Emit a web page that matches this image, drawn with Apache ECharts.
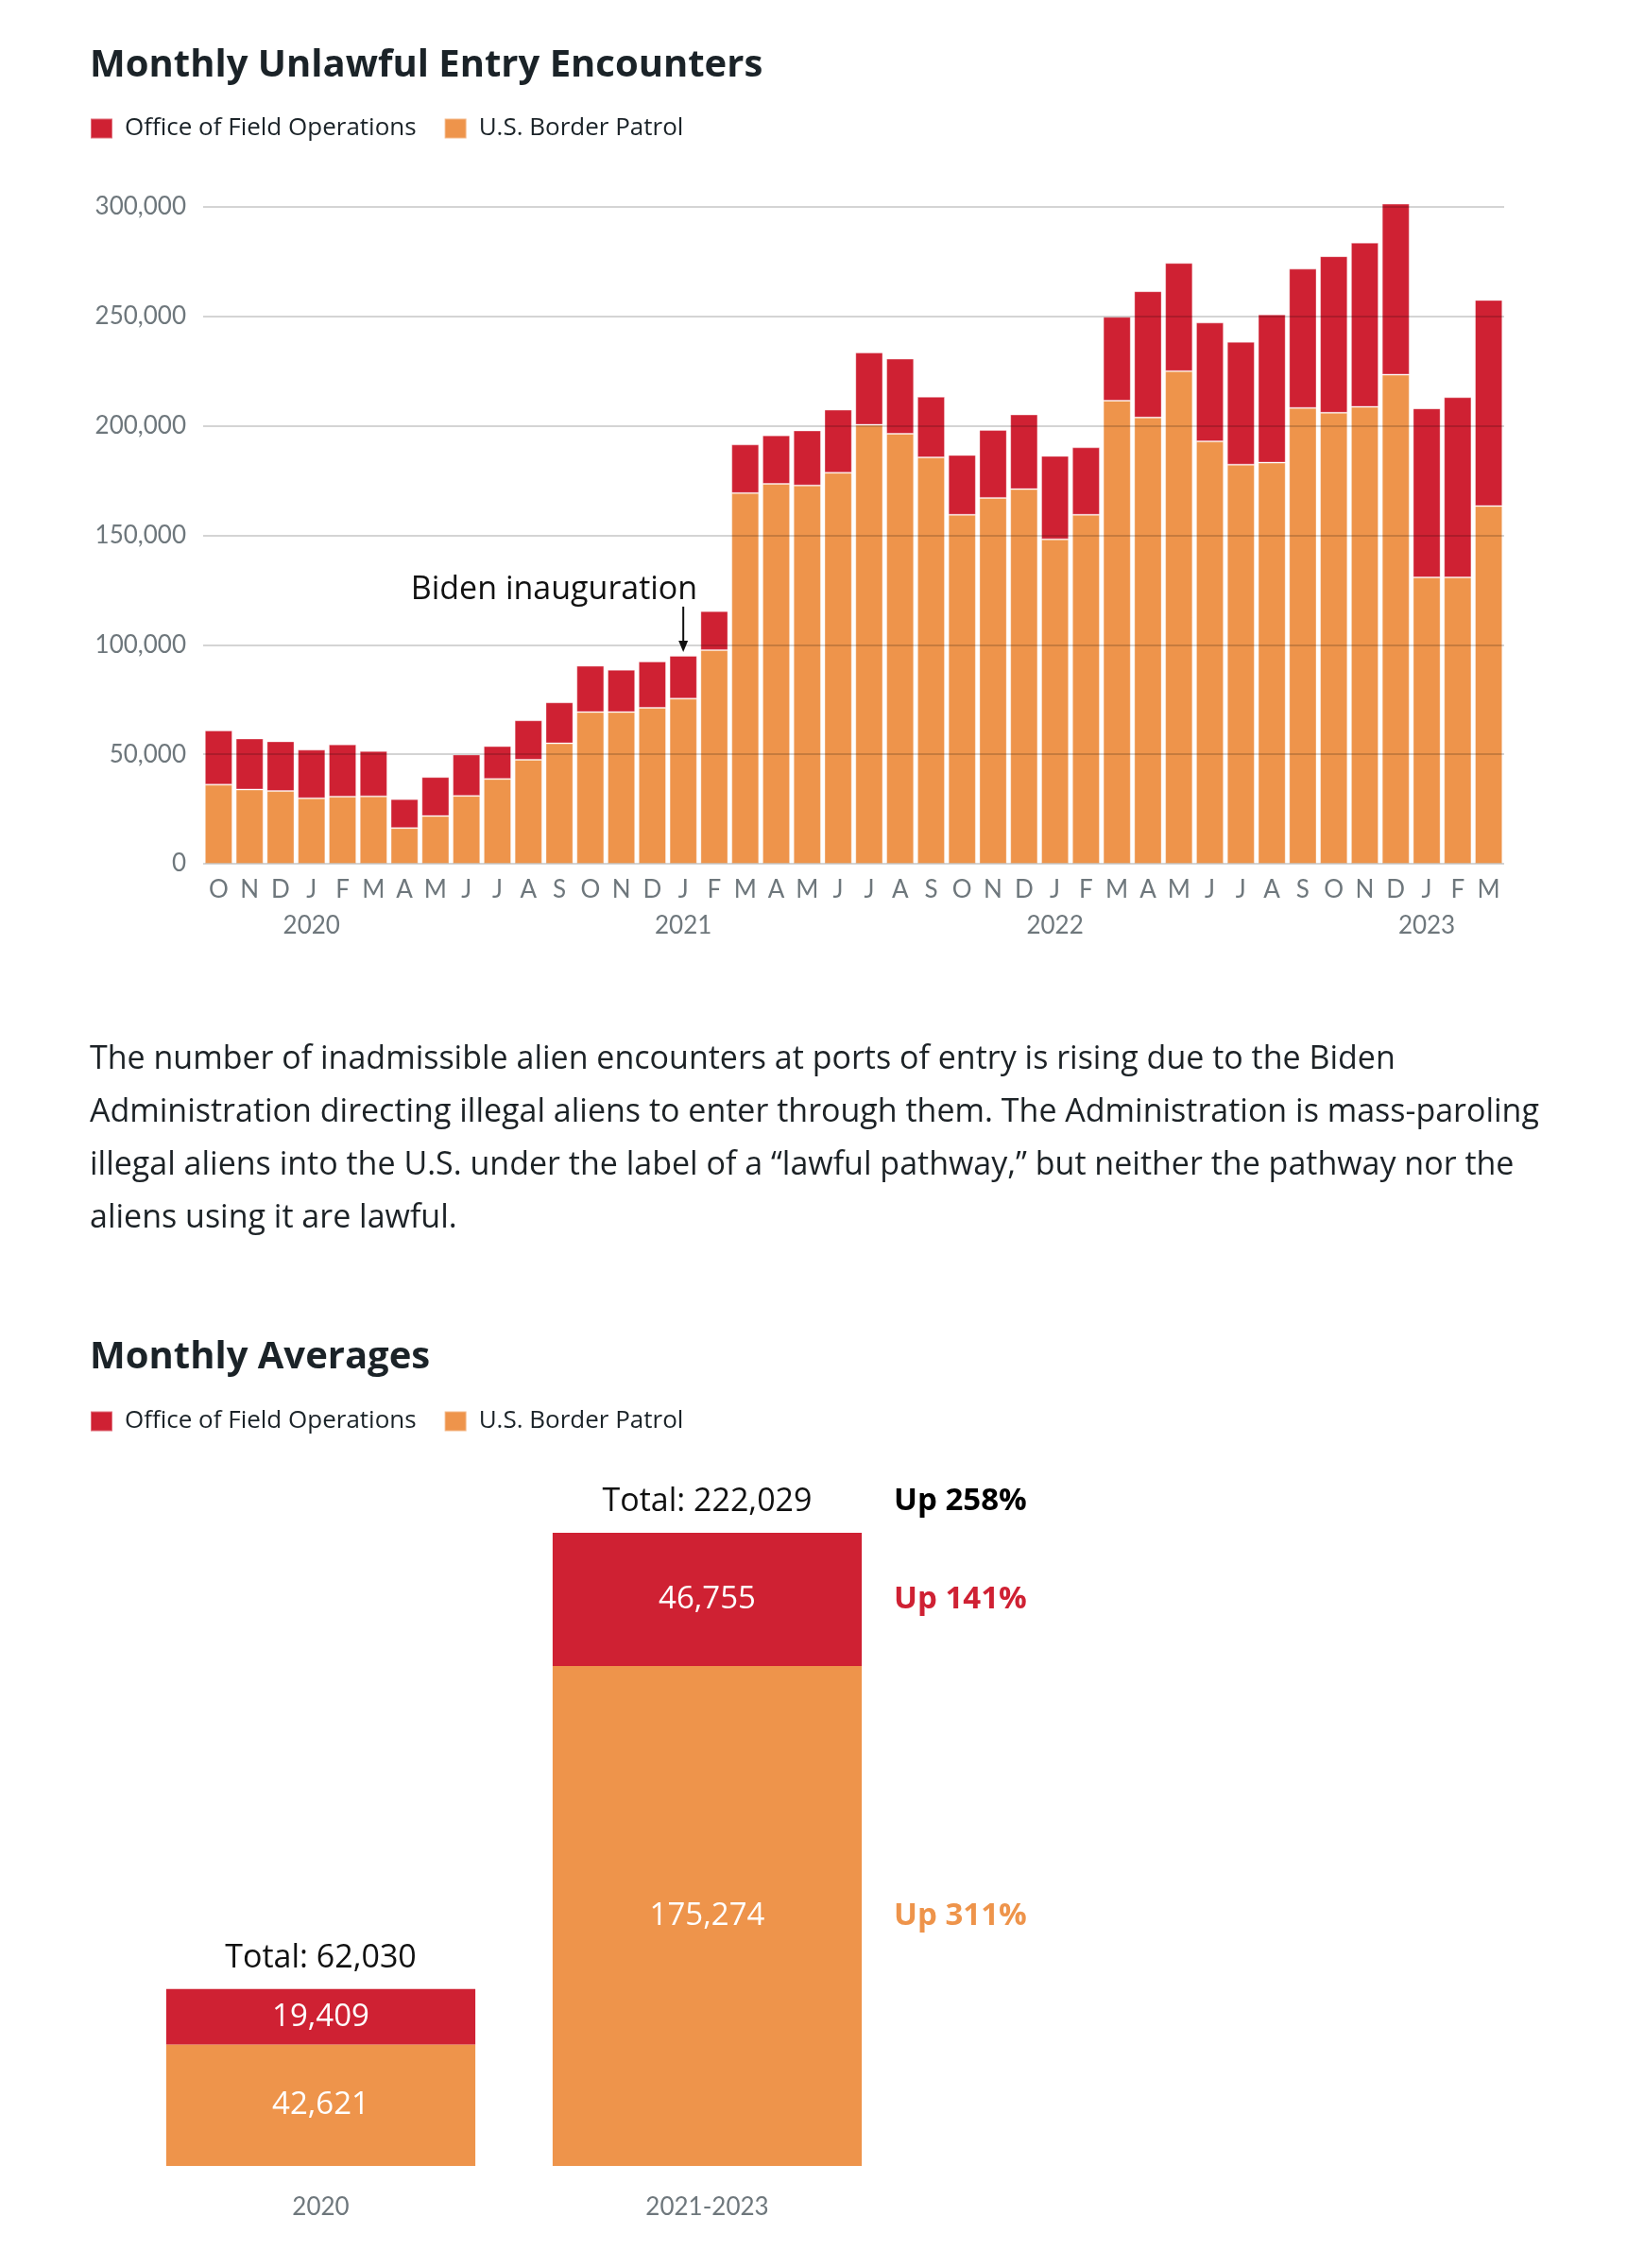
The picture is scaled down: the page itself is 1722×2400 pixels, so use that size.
<!DOCTYPE html>
<html>
<head>
<meta charset="utf-8">
<script src="https://cdn.jsdelivr.net/npm/echarts/dist/echarts.min.js"></script>
<style>
  html, body { margin: 0; padding: 0; background: #ffffff; }
  #chart { position: absolute; left: 0; top: 0; width: 1722px; height: 2400px; }
  #para {
    position: absolute; left: 95px; top: 1090px; margin: 0;
    font-family: "Open Sans", Lato, sans-serif; font-size: 34px; line-height: 56px;
    color: #1c2226; white-space: nowrap;
  }
</style>
</head>
<body>
<div id="chart"></div>
<p id="para">The number of inadmissible alien encounters at ports of entry is rising due to the Biden<br>Administration directing illegal aliens to enter through them. The Administration is mass-paroling<br>illegal aliens into the U.S. under the label of a “lawful pathway,” but neither the pathway nor the<br>aliens using it are lawful.</p>
<script>
// ---------- Data: monthly chart ----------
const months = [
  'Oct 2019','Nov 2019','Dec 2019',
  'Jan 2020','Feb 2020','Mar 2020','Apr 2020','May 2020','Jun 2020','Jul 2020','Aug 2020','Sep 2020','Oct 2020','Nov 2020','Dec 2020',
  'Jan 2021','Feb 2021','Mar 2021','Apr 2021','May 2021','Jun 2021','Jul 2021','Aug 2021','Sep 2021','Oct 2021','Nov 2021','Dec 2021',
  'Jan 2022','Feb 2022','Mar 2022','Apr 2022','May 2022','Jun 2022','Jul 2022','Aug 2022','Sep 2022','Oct 2022','Nov 2022','Dec 2022',
  'Jan 2023','Feb 2023','Mar 2023'
];
const borderPatrol = [
  36100, 33900, 33200, 29900, 30600, 30800, 16300, 21800, 31000, 38700, 47500, 55000,
  69300, 69300, 71200, 75400, 97600, 169300, 173500, 172800, 178600, 200500, 196400, 185600,
  159400, 167100, 171100, 148200, 159400, 211500, 203800, 225000, 192900, 182300, 183200, 208200,
  206000, 208700, 223400, 130800, 130800, 163400
];
const fieldOperations = [
  24800, 23300, 22700, 22200, 23900, 20700, 13200, 17800, 18900, 15000, 18000, 18700,
  21100, 19300, 21200, 19600, 17800, 22200, 22200, 25100, 28800, 33000, 34300, 27700,
  27300, 31000, 34100, 38100, 30800, 38300, 57700, 49400, 54300, 56100, 67700, 63600,
  71500, 75000, 78100, 77200, 82300, 94100
];
const yTicks = { min: 0, max: 300000, interval: 50000 };
const annotation = { monthIndex: 15, text: 'Biden inauguration' };

// ---------- Data: averages chart ----------
const periods = ['2020', '2021-2023'];
const avgBorderPatrol = [42621, 175274];
const avgFieldOperations = [19409, 46755];

const NAME_OFO = 'Office of Field Operations';
const NAME_BP = 'U.S. Border Patrol';
const RED = '#CF2133';
const ORANGE = '#EE944B';
const GREY = '#6e777c';
const DARK = '#1b2328';
const FONT = 'Open Sans';
const AXFONT = 'Lato';

const fmt = v => v.toLocaleString('en-US');
const monthLetter = s => s.charAt(0);

const G1 = { left: 215, top: 219, width: 1377, height: 695 };
const G2 = { left: 135, top: 1622, width: 818, height: 670 };

const chart = echarts.init(document.getElementById('chart'), null, { renderer: 'canvas' });

const legendBase = {
  left: 95, padding: 0, icon: 'rect', itemWidth: 23, itemHeight: 21, itemGap: 29,
  selectedMode: false, data: [NAME_OFO, NAME_BP],
  textStyle: { fontFamily: FONT, fontSize: 26, color: DARK, padding: [0, 0, 0, 8] }
};

const option = {
  backgroundColor: '#ffffff',
  animation: false,
  textStyle: { fontFamily: FONT },
  title: [
    { text: 'Monthly Unlawful Entry Encounters', left: 90, top: 45,
      textStyle: { fontFamily: FONT, fontWeight: 'bold', fontSize: 40, color: DARK } },
    { text: 'Monthly Averages', left: 90, top: 1412,
      textStyle: { fontFamily: FONT, fontWeight: 'bold', fontSize: 40, color: DARK } }
  ],
  legend: [
    Object.assign({}, legendBase, { top: 123 }),
    Object.assign({}, legendBase, { top: 1491 })
  ],
  grid: [
    { left: G1.left, top: G1.top, width: G1.width, height: G1.height, containLabel: false },
    { left: G2.left, top: G2.top, width: G2.width, height: G2.height, containLabel: false }
  ],
  xAxis: [
    { type: 'category', gridIndex: 0, data: months,
      axisLine: { show: false }, axisTick: { show: false },
      axisLabel: {
        interval: 0, margin: 9, fontFamily: AXFONT, fontSize: 26, color: GREY, lineHeight: 38,
        formatter: (v) => v.startsWith('Jan') ? monthLetter(v) + '\n' + v.slice(4) : monthLetter(v)
      } },
    { type: 'category', gridIndex: 1, data: periods,
      axisLine: { show: false }, axisTick: { show: false },
      axisLabel: { margin: 31, fontFamily: AXFONT, fontSize: 26, color: GREY } }
  ],
  yAxis: [
    { type: 'value', gridIndex: 0, min: yTicks.min, max: yTicks.max, interval: yTicks.interval, z: 5,
      axisLine: { show: false }, axisTick: { show: false },
      axisLabel: { margin: 18, fontFamily: AXFONT, fontSize: 26, color: GREY, formatter: fmt },
      splitLine: { show: true, lineStyle: { color: 'rgba(0,0,0,0.17)', width: 2 } } },
    { type: 'value', gridIndex: 1, min: 0, max: 'dataMax', show: false, splitLine: { show: false } }
  ],
  series: [
    { name: NAME_BP, type: 'bar', stack: 'm', xAxisIndex: 0, yAxisIndex: 0, data: borderPatrol,
      barCategoryGap: '11%', clip: false,
      itemStyle: { color: ORANGE, borderColor: 'rgba(255,255,255,0.35)', borderWidth: 1 } },
    { name: NAME_OFO, type: 'bar', stack: 'm', xAxisIndex: 0, yAxisIndex: 0, data: fieldOperations,
      barCategoryGap: '11%', clip: false,
      itemStyle: { color: RED, borderColor: 'rgba(255,255,255,0.35)', borderWidth: 1 } },
    { name: NAME_BP, type: 'bar', stack: 'a', xAxisIndex: 1, yAxisIndex: 1, data: avgBorderPatrol,
      barWidth: '80%',
      itemStyle: { color: ORANGE },
      label: { show: true, position: 'inside', color: '#ffffff', fontFamily: FONT, fontSize: 33,
               formatter: p => fmt(p.value) } },
    { name: NAME_OFO, type: 'bar', stack: 'a', xAxisIndex: 1, yAxisIndex: 1, data: avgFieldOperations,
      barWidth: '80%',
      itemStyle: { color: RED },
      label: { show: true, position: 'inside', color: '#ffffff', fontFamily: FONT, fontSize: 33,
               formatter: p => fmt(p.value) } }
  ]
};
chart.setOption(option);

// ---------- Annotations placed through the chart's own scales ----------
const graphics = [];
{
  const i = annotation.monthIndex;
  const top = borderPatrol[i] + fieldOperations[i];
  const [x, y] = chart.convertToPixel({ gridIndex: 0 }, [i, top]);
  graphics.push({ type: 'line', silent: true,
    shape: { x1: x, y1: y - 52, x2: x, y2: y - 14 },
    style: { stroke: '#111', lineWidth: 2 } });
  graphics.push({ type: 'polygon', silent: true,
    shape: { points: [[x - 5, y - 16], [x + 5, y - 16], [x, y - 4]] },
    style: { fill: '#111' } });
  graphics.push({ type: 'text', silent: true, x: x + 15, y: y - 70,
    style: { text: annotation.text, fontFamily: FONT, fontSize: 34, fill: '#111',
             align: 'right', verticalAlign: 'middle' } });
}
{
  const band = G2.width / periods.length;
  const half = band * 0.8 / 2;
  const totals = periods.map((_, k) => avgBorderPatrol[k] + avgFieldOperations[k]);
  periods.forEach((p, k) => {
    const [x, y] = chart.convertToPixel({ gridIndex: 1 }, [k, totals[k]]);
    graphics.push({ type: 'text', silent: true, x: x, y: y - 33,
      style: { text: 'Total: ' + fmt(totals[k]), fontFamily: FONT, fontSize: 34, fill: '#111',
               align: 'center', verticalAlign: 'middle' } });
  });
  const k = periods.length - 1;
  const pct = (a, b) => Math.round((a / b - 1) * 100);
  const [xc, yTop] = chart.convertToPixel({ gridIndex: 1 }, [k, totals[k]]);
  const [, yMid] = chart.convertToPixel({ gridIndex: 1 }, [k, avgBorderPatrol[k]]);
  const [, y0] = chart.convertToPixel({ gridIndex: 1 }, [k, 0]);
  const xr = xc + half + 34;
  const up = [
    { t: 'Up ' + pct(totals[k], totals[0]) + '%', y: yTop - 33, c: '#000000' },
    { t: 'Up ' + pct(avgFieldOperations[k], avgFieldOperations[0]) + '%', y: (yTop + yMid) / 2, c: RED },
    { t: 'Up ' + pct(avgBorderPatrol[k], avgBorderPatrol[0]) + '%', y: (yMid + y0) / 2, c: ORANGE }
  ];
  up.forEach(u => graphics.push({ type: 'text', silent: true, x: xr, y: u.y,
    style: { text: u.t, fontFamily: FONT, fontWeight: 'bold', fontSize: 33, fill: u.c,
             align: 'left', verticalAlign: 'middle' } }));
}
chart.setOption({ graphic: graphics });
</script>
</body>
</html>
